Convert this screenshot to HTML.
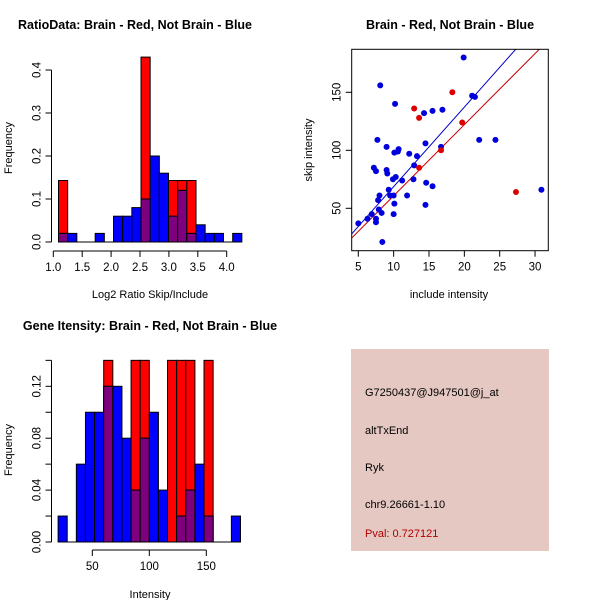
<!DOCTYPE html>
<html><head><meta charset="utf-8"><style>
body{margin:0;background:#fff}
svg{display:block;font-family:"Liberation Sans",sans-serif}
</style></head><body>
<svg id="c" width="600" height="600" xmlns="http://www.w3.org/2000/svg">
<rect width="600" height="600" fill="#fff"/>
<text x="135" y="29" text-anchor="middle" font-size="12.5" font-weight="bold">RatioData: Brain - Red, Not Brain - Blue</text>
<text x="450" y="29" text-anchor="middle" font-size="12.5" font-weight="bold">Brain - Red, Not Brain - Blue</text>
<text x="150" y="330" text-anchor="middle" font-size="12.5" font-weight="bold">Gene Itensity: Brain - Red, Not Brain - Blue</text>
<text x="150" y="298" text-anchor="middle" font-size="11">Log2 Ratio Skip/Include</text>
<text transform="translate(12,148) rotate(-90)" text-anchor="middle" font-size="11">Frequency</text>
<text x="449" y="298" text-anchor="middle" font-size="11">include intensity</text>
<text transform="translate(312,150) rotate(-90)" text-anchor="middle" font-size="11">skip intensity</text>
<text x="150" y="598" text-anchor="middle" font-size="11">Intensity</text>
<text transform="translate(12,450) rotate(-90)" text-anchor="middle" font-size="11">Frequency</text>
<g>
<rect x="351" y="349" width="198" height="202" fill="#e6c8c2"/>
<text x="365" y="396" font-size="11">G7250437@J947501@j_at</text>
<text x="365" y="434" font-size="11">altTxEnd</text>
<text x="365" y="471" font-size="11">Ryk</text>
<text x="365" y="508" font-size="11">chr9.26661-1.10</text>
<text x="365" y="537" font-size="11" fill="#b00000">Pval: 0.727121</text>
</g>
</svg>
<script>
// Ratio histogram data
const ratioBinStart = 1.09;
const ratioBinWidth = 0.1586;
const ratioBlue = [0.02,0.02,0,0,0.02,0,0.06,0.06,0.08,0.1,0.2,0.16,0.06,0.12,0.02,0.04,0.02,0.02,0,0.02];
const ratioRed  = [0.143,0,0,0,0,0,0,0,0,0.43,0,0,0.143,0.143,0.143,0,0,0,0,0];
const ratioXTicks = [1.0,1.5,2.0,2.5,3.0,3.5,4.0];
const ratioXLabels = ["1.0","1.5","2.0","2.5","3.0","3.5","4.0"];
const ratioYTicks = [0,0.1,0.2,0.3,0.4];
const ratioYLabels = ["0.0","0.1","0.2","0.3","0.4"];
// Intensity histogram data
const intBinStart = 20;
const intBinWidth = 8;
const intBlue = [0.02,0,0.06,0.1,0.1,0.12,0.12,0.08,0.04,0.08,0.1,0.04,0,0.02,0.04,0.06,0.02,0,0,0.02];
const intRed  = [0,0,0,0,0,0.14,0,0,0.14,0.14,0,0,0.14,0.14,0.14,0,0.14,0,0,0];
const intXTicks = [50,100,150];
const intYTicks = [0,0.02,0.04,0.06,0.08,0.1,0.12,0.14];
const intYLabels = ["0.00","","0.04","","0.08","","0.12",""];
// Scatter data
const blueX = [5,6.3,6.9,7.2,7.5,7.5,7.5,7.7,7.9,7.8,8,8.1,8.3,8.4,9,9,9.1,9.3,9.5,9.9,10,10,10.1,10.1,10.2,10.3,10.6,10.7,11.2,11.9,12.2,12.8,12.9,13.3,14.3,14.5,14.6,14.5,15.5,15.5,16.7,16.9,19.9,21.1,21.5,22.1,24.4,30.9];
const blueY = [37,41,45,85,82,38,41,109,49,57,61,156,46,21,103,83,80,66,61,75,45,61,54,98,140,77,99,101,74,61,97,75,87,95,132,106,72,53,134,69,103,135,180,147,146,109,109,66];
const redX = [12.9,13.6,13.6,16.7,18.3,19.7,27.3];
const redY = [136,128,85,100,150,124,64];
const blueFit = [0.04,6.86];
const redFit = [-0.5,6.13];
const scXTicks = [5,10,15,20,25,30];
const scYTicks = [50,100,150];

const NS="http://www.w3.org/2000/svg";
const svg=document.getElementById('c');
function el(tag,attrs,parent){const e=document.createElementNS(NS,tag);for(const k in attrs)e.setAttribute(k,attrs[k]);(parent||svg).appendChild(e);return e;}
function txt(x,y,s,attrs,parent){const t=el('text',Object.assign({x:x,y:y,'font-size':11.5,'text-anchor':'middle'},attrs||{}),parent);t.textContent=s;return t;}

function histogram(name,binStart,binW,blue,red,sx,sy,base,axisY,axisX,xt,xl,yt,yl){
  const g=el('g',{});
  
  
  for(let i=0;i<blue.length;i++){
    const x0=sx(binStart+i*binW),x1=sx(binStart+(i+1)*binW);
    const b=blue[i],r=red[i],m=Math.min(b,r);
    if(r>0){const e=el('rect',{x:x0,y:sy(r),width:x1-x0,height:base-sy(r),fill:'#ff0000',stroke:'#000','stroke-width':1},g);
      
      }
    if(b>0){const e=el('rect',{x:x0,y:sy(b),width:x1-x0,height:base-sy(b),fill:'#0000ff',stroke:'#000','stroke-width':1},g);
      
      }
    if(m>0){const e=el('rect',{x:x0,y:sy(m),width:x1-x0,height:base-sy(m),fill:'#7f007f',stroke:'#000','stroke-width':1},g);
      
      }
  }
  el('line',{x1:sx(binStart),x2:sx(binStart+blue.length*binW),y1:base,y2:base,stroke:'#000'},g);
  el('line',{x1:sx(xt[0]),x2:sx(xt[xt.length-1]),y1:axisY,y2:axisY,stroke:'#000'},g);
  xt.forEach((v,i)=>{el('line',{x1:sx(v),x2:sx(v),y1:axisY,y2:axisY+6,stroke:'#000'},g);
    const t=txt(sx(v),axisY+20,xl[i],{},g);
    
    });
  el('line',{x1:axisX,x2:axisX,y1:sy(yt[0]),y2:sy(yt[yt.length-1]),stroke:'#000'},g);
  yt.forEach((v,i)=>{el('line',{x1:axisX,x2:axisX-6,y1:sy(v),y2:sy(v),stroke:'#000'},g);
    if(yl[i]){const t=txt(0,0,yl[i],{transform:`translate(${axisX-11},${sy(v)}) rotate(-90)`},g);
      
      }});
}

const rsx=v=>53.3+(v-1)*57.8, rsy=v=>242-v*430;
histogram('ratio-histogram',ratioBinStart,ratioBinWidth,ratioBlue,ratioRed,rsx,rsy,242,251,51.5,ratioXTicks,ratioXLabels,ratioYTicks,ratioYLabels);
const isx=v=>92.3+(v-50)*1.14, isy=v=>542-v*1297.5;
histogram('intensity-histogram',intBinStart,intBinWidth,intBlue,intRed,isx,isy,542,550,51.5,intXTicks,intXTicks.map(String),intYTicks,intYLabels);

const ssx=v=>358.3+(v-5)*7.07, ssy=v=>208.3-(v-50)*1.16;
const L=351.7,R=548.3,T=49.3,B=250.7;
const sg=el('g',{});


el('clipPath',{id:'clipS'},sg);
el('rect',{x:L,y:T,width:R-L,height:B-T},document.getElementById('clipS'));
const xmin=5+(L-358.3)/7.07,xmax=5+(R-358.3)/7.07;
[[blueFit,'#0000cc'],[redFit,'#cc0000']].forEach(([f,c])=>{
  const ln=el('line',{x1:ssx(xmin),y1:ssy(f[0]+f[1]*xmin),x2:ssx(xmax),y2:ssy(f[0]+f[1]*xmax),stroke:c,'stroke-width':1,'clip-path':'url(#clipS)'},sg);
  
  
});
blueX.forEach((x,i)=>{const p=el('circle',{cx:ssx(x),cy:ssy(blueY[i]),r:3,fill:'#0000dd'},sg);
  
  });
redX.forEach((x,i)=>{const p=el('circle',{cx:ssx(x),cy:ssy(redY[i]),r:3,fill:'#dd0000'},sg);
  
  });
el('rect',{x:L,y:T,width:R-L,height:B-T,fill:'none',stroke:'#000'},sg);
scXTicks.forEach(v=>{el('line',{x1:ssx(v),x2:ssx(v),y1:B,y2:B+6,stroke:'#000'},sg);
  const t=txt(ssx(v),B+20,String(v),{},sg);
  
  });
scYTicks.forEach(v=>{el('line',{x1:L,x2:L-6,y1:ssy(v),y2:ssy(v),stroke:'#000'},sg);
  const t=txt(0,0,String(v),{transform:`translate(${L-11},${ssy(v)}) rotate(-90)`},sg);
  
  });
</script>
</body></html>
